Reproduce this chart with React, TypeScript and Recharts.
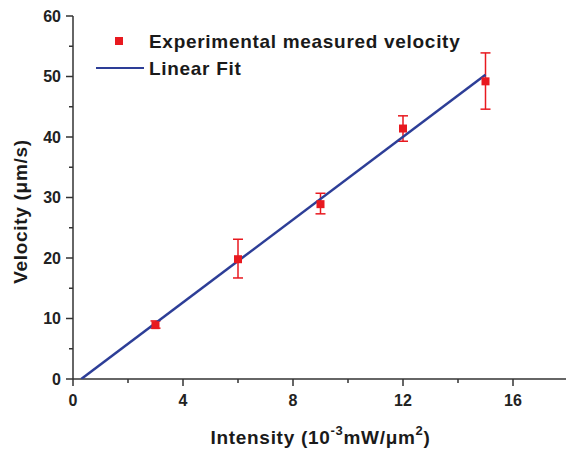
import React from "react";
import {
  ComposedChart,
  Scatter,
  XAxis,
  YAxis,
  ErrorBar,
  Label,
} from "recharts";

const intensity = [3, 6, 9, 12, 15];
const velocity = [8.9, 19.8, 28.9, 41.4, 49.2];
const errLow = [0.5, 3.1, 1.6, 2.1, 4.6];
const errHigh = [0.7, 3.3, 1.8, 2.1, 4.7];

const fitX = [0.3, 15];
const fitY = [0, 50.3];

const xTicks = [0, 2, 4, 6, 8, 10, 12, 14, 16];
const xMajor = [0, 4, 8, 12, 16];
const yTicks = [0, 5, 10, 15, 20, 25, 30, 35, 40, 45, 50, 55, 60];
const yMajor = [0, 10, 20, 30, 40, 50, 60];

const RED = "#e8191f";
const BLUE = "#2d3e97";
const AXIS = "#333";
const FONT = "'Liberation Sans', Arial, sans-serif";

const points = intensity.map((x, i) => ({
  x,
  y: velocity[i],
  err: [errLow[i], errHigh[i]],
}));
const fit = fitX.map((x, i) => ({ x, y: fitY[i] }));

// big bold text, a bit wider than plain Arial like the original
const bigText = {
  fontFamily: FONT,
  fontWeight: "bold" as const,
  fontSize: 19,
  letterSpacing: 0.7,
  fill: "#1a1a1a",
};

function XTick({ x, y, payload }: { x: number; y: number; payload: { value: number } }) {
  const major = xMajor.includes(payload.value);
  return (
    <g>
      <line x1={x} x2={x} y1={y} y2={y + (major ? 7 : 4)} stroke={AXIS} strokeWidth={1.5} />
      {major && (
        <text x={x} y={y + 21} textAnchor="middle" dominantBaseline="central" fontFamily={FONT} fontWeight="bold" fontSize={16} fill="#222">
          {payload.value}
        </text>
      )}
    </g>
  );
}

function YTick({ x, y, payload }: { x: number; y: number; payload: { value: number } }) {
  const major = yMajor.includes(payload.value);
  return (
    <g>
      <line x1={x} x2={x - (major ? 7 : 4)} y1={y} y2={y} stroke={AXIS} strokeWidth={1.5} />
      {major && (
        <text x={x - 12} y={y} textAnchor="end" dominantBaseline="central" fontFamily={FONT} fontWeight="bold" fontSize={16} fill="#222">
          {payload.value}
        </text>
      )}
    </g>
  );
}

function Square({ cx, cy }: { cx: number; cy: number }) {
  return <rect x={cx - 4} y={cy - 4} width={8} height={8} fill={RED} />;
}

function XLabel({ viewBox }: any) {
  const cx = viewBox.x + viewBox.width / 2;
  const cy = viewBox.y + 58;
  return (
    <text x={cx} y={cy} textAnchor="middle" dominantBaseline="central" {...bigText}>
      Intensity (10
      <tspan dy={-7} fontSize={13}>-3</tspan>
      <tspan dy={7}>mW/μm</tspan>
      <tspan dy={-7} fontSize={13}>2</tspan>
      <tspan dy={7}>)</tspan>
    </text>
  );
}

function YLabel({ viewBox }: any) {
  const cx = 20;
  const cy = viewBox.y + viewBox.height / 2 + 14;
  return (
    <text x={cx} y={cy} transform={`rotate(-90 ${cx} ${cy})`} textAnchor="middle" dominantBaseline="central" {...bigText}>
      Velocity (μm/s)
    </text>
  );
}

export default function App() {
  return (
    <div style={{ position: "absolute", left: 0, top: 0, width: 566, height: 458, overflow: "hidden", background: "#fff" }}>
      <ComposedChart width={568} height={458} margin={{ top: 16, right: 0, bottom: 19, left: 13 }}>
        <XAxis
          type="number"
          dataKey="x"
          domain={[0, 18]}
          ticks={xTicks}
          interval={0}
          height={60}
          tickSize={0}
          tickMargin={0}
          tickLine={false}
          tick={XTick as any}
          axisLine={{ stroke: AXIS, strokeWidth: 1.5 }}
          allowDataOverflow
        >
          <Label content={XLabel} />
        </XAxis>
        <YAxis
          type="number"
          dataKey="y"
          domain={[0, 60]}
          ticks={yTicks}
          interval={0}
          width={60}
          tickSize={0}
          tickMargin={0}
          tickLine={false}
          tick={YTick as any}
          axisLine={{ stroke: AXIS, strokeWidth: 1.5 }}
          allowDataOverflow
        >
          <Label content={YLabel} />
        </YAxis>
        <Scatter
          data={fit}
          line={{ stroke: BLUE, strokeWidth: 2.5 }}
          shape={() => <g />}
          isAnimationActive={false}
        />
        <Scatter data={points} shape={Square as any} isAnimationActive={false}>
          <ErrorBar dataKey="err" direction="y" stroke={RED} strokeWidth={1.5} width={5} />
        </Scatter>
      </ComposedChart>
      <svg width={566} height={100} style={{ position: "absolute", left: 0, top: 0 }}>
        <rect x={115} y={37} width={8} height={8} fill={RED} />
        <text x={149} y={41} dominantBaseline="central" {...bigText}>
          Experimental measured velocity
        </text>
        <line x1={96} x2={144} y1={68} y2={68} stroke={BLUE} strokeWidth={2} />
        <text x={149} y={68} dominantBaseline="central" {...bigText}>
          Linear Fit
        </text>
      </svg>
    </div>
  );
}
